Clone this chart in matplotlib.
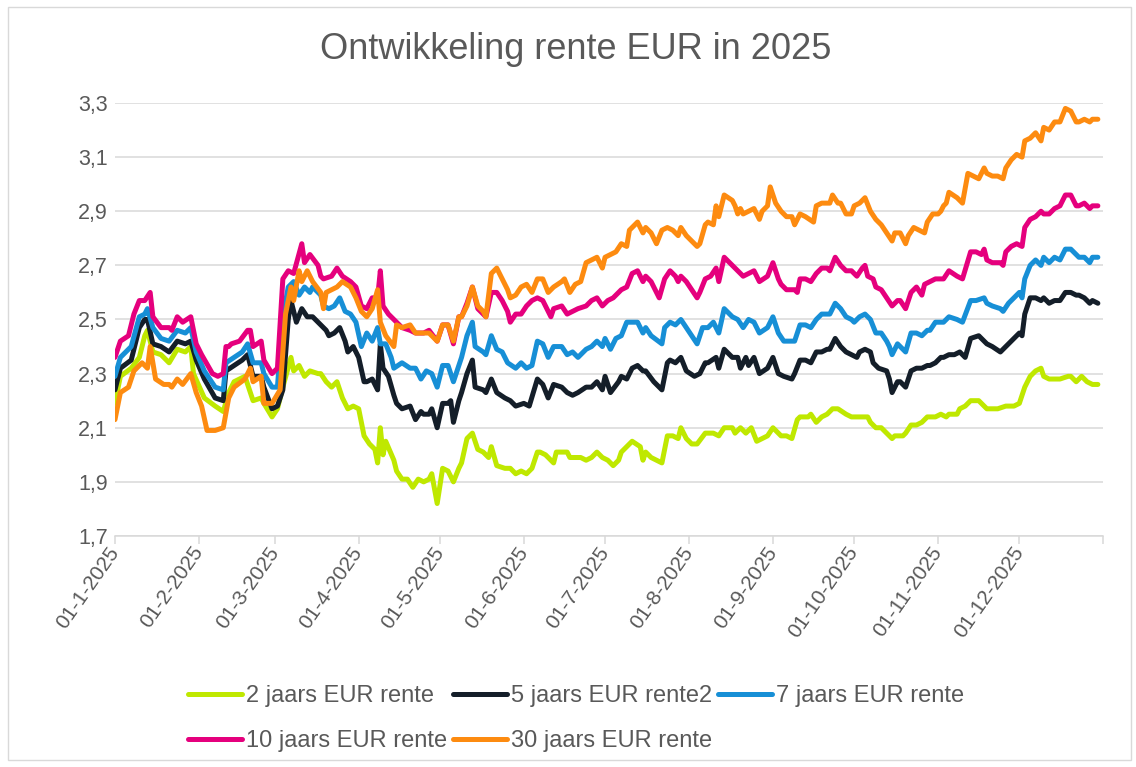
import matplotlib
matplotlib.use('Agg')
import matplotlib.pyplot as plt
import pandas as pd
from matplotlib.patches import Rectangle

plt.rcParams['font.family'] = ['Liberation Sans', 'DejaVu Sans']

START = pd.Timestamp('2025-01-01')

# (dagen sinds 1-1-2025, rente %)
rente_2j = [(0,2.19),(2,2.29),(6,2.32),(9,2.36),(11,2.44),(12,2.46),(14,2.38),(17,2.37),(20,2.34),(23,2.39),(26,2.38),(28,2.40),(29,2.30),(33,2.21),(37,2.18),(40,2.16),(42,2.23),(44,2.27),(48,2.29),(51,2.20),(54,2.21),(55,2.19),(58,2.14),(60,2.17),(62,2.25),(65,2.36),(66,2.31),(68,2.33),(70,2.29),(72,2.31),(75,2.30),(76,2.30),(78,2.27),(80,2.25),(82,2.27),(84,2.21),(86,2.17),(88,2.18),(90,2.17),(92,2.07),(94,2.04),(96,2.02),(97,1.97),(98,2.10),(99,2.00),(100,2.05),(103,1.98),(104,1.94),(106,1.91),(108,1.91),(110,1.88),(112,1.91),(114,1.90),(116,1.91),(117,1.93),(119,1.82),(121,1.95),(123,1.94),(125,1.90),(127,1.95),(128,1.97),(130,2.06),(132,2.08),(134,2.02),(136,2.01),(138,1.99),(139,2.03),(141,1.96),(144,1.95),(146,1.95),(148,1.93),(150,1.94),(152,1.93),(154,1.95),(156,2.01),(157,2.01),(159,2.00),(162,1.97),(163,2.01),(167,2.01),(168,1.99),(170,1.99),(172,1.99),(174,1.98),(176,1.99),(178,2.01),(180,1.99),(182,1.98),(184,1.96),(186,1.98),(187,2.01),(189,2.03),(191,2.05),(194,2.03),(195,1.98),(196,2.01),(198,1.99),(202,1.97),(204,2.07),(206,2.07),(208,2.06),(209,2.10),(211,2.06),(213,2.04),(215,2.04),(218,2.08),(219,2.08),(221,2.08),(223,2.07),(225,2.10),(228,2.10),(229,2.08),(231,2.10),(233,2.08),(235,2.10),(237,2.05),(239,2.06),(241,2.07),(243,2.10),(245,2.08),(246,2.07),(248,2.07),(250,2.06),(252,2.13),(253,2.14),(256,2.14),(257,2.15),(259,2.12),(261,2.14),(263,2.15),(265,2.17),(267,2.17),(270,2.15),(272,2.14),(274,2.14),(276,2.14),(278,2.14),(279,2.12),(281,2.10),(283,2.10),(285,2.08),(287,2.06),(288,2.07),(291,2.07),(292,2.08),(294,2.11),(296,2.11),(298,2.12),(300,2.14),(301,2.14),(303,2.14),(305,2.15),(307,2.14),(308,2.15),(311,2.15),(312,2.17),(314,2.18),(316,2.20),(319,2.20),(321,2.18),(322,2.17),(326,2.17),(329,2.18),(332,2.18),(334,2.19),(336,2.25),(338,2.29),(340,2.31),(342,2.32),(343,2.29),(345,2.28),(348,2.28),(349,2.28),(352,2.29),(353,2.29),(355,2.27),(357,2.29),(359,2.27),(361,2.26),(363,2.26)]

rente_5j = [(0,2.24),(2,2.32),(6,2.35),(9,2.47),(11,2.50),(12,2.50),(14,2.41),(17,2.40),(20,2.38),(23,2.42),(26,2.41),(28,2.42),(30,2.35),(33,2.28),(37,2.21),(40,2.20),(41,2.31),(44,2.33),(47,2.35),(49,2.37),(51,2.29),(54,2.29),(55,2.25),(58,2.17),(60,2.18),(62,2.24),(64,2.50),(65,2.57),(67,2.49),(69,2.54),(71,2.51),(73,2.51),(75,2.49),(78,2.46),(79,2.44),(81,2.45),(83,2.47),(85,2.42),(86,2.38),(88,2.40),(90,2.36),(92,2.27),(93,2.27),(95,2.28),(97,2.24),(98,2.41),(99,2.32),(101,2.29),(103,2.22),(104,2.19),(106,2.17),(109,2.18),(111,2.13),(113,2.16),(114,2.15),(116,2.15),(117,2.17),(119,2.10),(121,2.19),(123,2.19),(124,2.20),(125,2.12),(127,2.20),(128,2.23),(130,2.30),(132,2.35),(133,2.25),(136,2.24),(137,2.23),(139,2.28),(141,2.23),(144,2.21),(146,2.20),(148,2.18),(151,2.19),(153,2.18),(156,2.28),(158,2.26),(160,2.21),(162,2.26),(165,2.25),(167,2.23),(169,2.22),(171,2.23),(174,2.25),(176,2.25),(178,2.27),(180,2.24),(181,2.29),(183,2.23),(186,2.27),(187,2.29),(189,2.28),(191,2.32),(193,2.33),(195,2.31),(196,2.31),(199,2.27),(202,2.24),(204,2.34),(205,2.35),(207,2.34),(209,2.36),(211,2.31),(214,2.29),(216,2.30),(218,2.34),(219,2.34),(222,2.36),(223,2.32),(225,2.39),(228,2.36),(230,2.36),(231,2.32),(233,2.36),(234,2.33),(236,2.36),(238,2.30),(241,2.32),(243,2.36),(245,2.30),(247,2.29),(250,2.28),(251,2.30),(253,2.35),(255,2.35),(257,2.34),(259,2.38),(261,2.38),(263,2.39),(264,2.39),(266,2.43),(268,2.40),(270,2.38),(272,2.37),(274,2.36),(275,2.38),(277,2.39),(279,2.38),(280,2.34),(282,2.32),(285,2.31),(286,2.28),(287,2.23),(289,2.27),(290,2.27),(292,2.25),(294,2.31),(296,2.32),(298,2.32),(300,2.33),(301,2.33),(303,2.34),(305,2.36),(306,2.36),(308,2.37),(310,2.37),(312,2.38),(314,2.36),(316,2.43),(319,2.44),(321,2.42),(322,2.41),(324,2.40),(327,2.38),(328,2.39),(330,2.41),(332,2.43),(334,2.45),(335,2.44),(336,2.52),(338,2.58),(340,2.58),(342,2.57),(343,2.58),(345,2.56),(347,2.57),(349,2.57),(351,2.60),(353,2.60),(355,2.59),(356,2.59),(358,2.58),(360,2.56),(361,2.57),(363,2.56)]

rente_7j = [(0,2.29),(2,2.36),(6,2.40),(9,2.51),(11,2.52),(12,2.54),(14,2.47),(17,2.43),(20,2.42),(23,2.46),(26,2.45),(28,2.47),(30,2.38),(33,2.31),(37,2.25),(40,2.24),(41,2.34),(44,2.36),(47,2.38),(49,2.41),(51,2.34),(54,2.34),(55,2.30),(58,2.25),(60,2.25),(62,2.51),(64,2.62),(66,2.64),(68,2.59),(70,2.62),(72,2.60),(73,2.62),(76,2.59),(77,2.55),(79,2.54),(81,2.55),(83,2.58),(85,2.53),(87,2.52),(89,2.49),(91,2.40),(93,2.45),(95,2.42),(97,2.47),(98,2.41),(100,2.41),(102,2.36),(103,2.32),(106,2.34),(109,2.32),(111,2.32),(113,2.28),(115,2.31),(117,2.30),(119,2.25),(121,2.33),(123,2.33),(125,2.27),(127,2.33),(128,2.36),(130,2.44),(132,2.49),(133,2.40),(136,2.38),(137,2.37),(139,2.44),(141,2.39),(143,2.38),(145,2.34),(148,2.32),(150,2.34),(152,2.32),(154,2.33),(156,2.42),(158,2.41),(160,2.36),(162,2.40),(165,2.40),(167,2.37),(169,2.38),(171,2.36),(174,2.39),(176,2.40),(178,2.42),(180,2.40),(181,2.43),(183,2.39),(185,2.43),(187,2.44),(189,2.49),(191,2.49),(193,2.49),(195,2.45),(196,2.47),(198,2.44),(202,2.41),(203,2.47),(205,2.49),(207,2.48),(209,2.50),(211,2.47),(213,2.44),(215,2.41),(217,2.47),(219,2.47),(221,2.49),(223,2.45),(225,2.54),(228,2.51),(230,2.50),(232,2.47),(234,2.50),(236,2.49),(238,2.45),(241,2.47),(243,2.51),(245,2.45),(247,2.42),(250,2.42),(251,2.42),(253,2.48),(255,2.48),(257,2.47),(259,2.50),(261,2.52),(263,2.52),(264,2.52),(266,2.56),(268,2.54),(270,2.51),(272,2.50),(273,2.49),(275,2.51),(277,2.52),(278,2.51),(279,2.50),(281,2.45),(283,2.45),(285,2.42),(286,2.40),(287,2.37),(289,2.41),(290,2.40),(292,2.38),(294,2.45),(296,2.45),(298,2.44),(300,2.46),(301,2.46),(303,2.49),(306,2.49),(308,2.51),(311,2.50),(313,2.49),(316,2.57),(318,2.57),(321,2.58),(322,2.56),(324,2.55),(327,2.54),(328,2.53),(330,2.56),(332,2.58),(334,2.60),(335,2.58),(336,2.65),(338,2.70),(340,2.72),(342,2.70),(343,2.73),(345,2.71),(347,2.73),(349,2.72),(351,2.76),(353,2.76),(355,2.74),(356,2.73),(358,2.73),(360,2.71),(361,2.73),(363,2.73)]

rente_10j = [(0,2.36),(2,2.42),(5,2.44),(7,2.52),(9,2.57),(11,2.57),(13,2.60),(14,2.51),(17,2.47),(20,2.47),(21,2.46),(23,2.51),(25,2.49),(28,2.51),(30,2.41),(32,2.37),(36,2.30),(38,2.29),(40,2.30),(41,2.40),(42,2.40),(43,2.41),(46,2.42),(49,2.46),(50,2.46),(51,2.40),(54,2.42),(55,2.35),(58,2.30),(60,2.32),(62,2.65),(64,2.68),(66,2.67),(69,2.78),(70,2.71),(72,2.74),(75,2.70),(76,2.66),(77,2.65),(80,2.66),(82,2.69),(84,2.66),(87,2.64),(89,2.62),(91,2.55),(93,2.54),(95,2.58),(97,2.58),(98,2.68),(99,2.55),(101,2.52),(103,2.50),(104,2.49),(106,2.47),(109,2.46),(111,2.45),(114,2.45),(116,2.46),(119,2.42),(121,2.48),(123,2.48),(125,2.41),(127,2.51),(128,2.51),(130,2.56),(132,2.62),(134,2.54),(136,2.52),(137,2.51),(139,2.60),(141,2.60),(143,2.57),(145,2.53),(146,2.49),(148,2.52),(150,2.52),(152,2.55),(154,2.57),(156,2.58),(158,2.57),(161,2.51),(162,2.54),(165,2.55),(167,2.52),(169,2.53),(171,2.54),(174,2.55),(176,2.57),(178,2.58),(180,2.55),(182,2.57),(184,2.58),(186,2.60),(187,2.61),(189,2.62),(191,2.67),(193,2.68),(195,2.64),(196,2.66),(198,2.64),(201,2.58),(203,2.65),(205,2.68),(207,2.66),(208,2.64),(209,2.66),(211,2.64),(213,2.61),(215,2.58),(216,2.60),(218,2.65),(220,2.66),(222,2.69),(223,2.64),(225,2.73),(228,2.70),(230,2.68),(232,2.66),(234,2.67),(236,2.68),(238,2.64),(241,2.66),(243,2.71),(245,2.65),(246,2.63),(248,2.61),(251,2.61),(252,2.60),(253,2.65),(255,2.65),(257,2.64),(259,2.67),(261,2.69),(263,2.69),(264,2.68),(266,2.73),(268,2.70),(270,2.68),(272,2.68),(274,2.66),(276,2.69),(277,2.70),(278,2.66),(280,2.65),(281,2.62),(283,2.61),(285,2.58),(287,2.55),(289,2.57),(290,2.57),(292,2.54),(294,2.60),(296,2.62),(298,2.59),(299,2.63),(301,2.64),(303,2.65),(306,2.65),(308,2.68),(311,2.66),(313,2.65),(316,2.75),(318,2.75),(320,2.74),(321,2.76),(322,2.72),(324,2.71),(327,2.71),(328,2.70),(329,2.75),(331,2.77),(333,2.78),(335,2.77),(336,2.84),(338,2.87),(340,2.88),(342,2.90),(343,2.89),(345,2.89),(347,2.91),(349,2.92),(351,2.96),(353,2.96),(355,2.92),(356,2.92),(358,2.93),(360,2.91),(361,2.92),(363,2.92)]

rente_30j = [(0,2.13),(2,2.23),(5,2.25),(7,2.31),(10,2.34),(12,2.32),(13,2.40),(15,2.28),(18,2.26),(20,2.26),(21,2.25),(23,2.28),(25,2.26),(28,2.30),(30,2.23),(32,2.18),(34,2.09),(37,2.09),(40,2.10),(42,2.21),(44,2.25),(48,2.28),(50,2.32),(51,2.27),(54,2.29),(55,2.19),(58,2.19),(61,2.24),(63,2.52),(65,2.62),(66,2.57),(68,2.68),(69,2.64),(71,2.68),(73,2.64),(76,2.60),(77,2.54),(78,2.60),(82,2.62),(84,2.64),(87,2.62),(89,2.58),(91,2.53),(93,2.51),(95,2.54),(97,2.61),(98,2.49),(100,2.44),(103,2.40),(104,2.48),(106,2.47),(109,2.48),(111,2.45),(114,2.45),(116,2.45),(119,2.42),(121,2.48),(123,2.48),(125,2.42),(127,2.51),(128,2.51),(130,2.55),(132,2.62),(134,2.55),(136,2.53),(137,2.51),(139,2.67),(141,2.69),(143,2.65),(145,2.61),(146,2.58),(148,2.59),(150,2.62),(152,2.63),(154,2.60),(156,2.65),(158,2.65),(160,2.60),(162,2.62),(165,2.64),(166,2.65),(168,2.60),(170,2.63),(172,2.64),(174,2.71),(176,2.72),(178,2.73),(180,2.69),(181,2.73),(183,2.74),(185,2.75),(187,2.78),(189,2.77),(190,2.83),(191,2.84),(193,2.86),(195,2.82),(196,2.84),(198,2.82),(200,2.78),(202,2.83),(204,2.84),(206,2.83),(208,2.81),(209,2.84),(211,2.81),(213,2.79),(215,2.77),(216,2.78),(218,2.85),(219,2.86),(221,2.85),(222,2.92),(223,2.88),(225,2.96),(228,2.94),(229,2.92),(230,2.89),(231,2.91),(232,2.89),(234,2.90),(236,2.91),(238,2.87),(239,2.90),(241,2.92),(242,2.99),(244,2.93),(246,2.90),(248,2.88),(250,2.88),(251,2.85),(253,2.89),(255,2.88),(258,2.86),(259,2.92),(261,2.93),(264,2.93),(265,2.96),(267,2.93),(268,2.93),(270,2.89),(272,2.89),(273,2.92),(275,2.93),(277,2.95),(279,2.90),(281,2.87),(283,2.85),(285,2.82),(287,2.79),(288,2.82),(290,2.82),(292,2.78),(293,2.81),(295,2.84),(297,2.83),(299,2.82),(300,2.86),(302,2.89),(304,2.89),(305,2.90),(306,2.92),(307,2.93),(308,2.97),(311,2.95),(313,2.93),(315,3.04),(317,3.03),(319,3.02),(321,3.06),(322,3.04),(324,3.03),(326,3.03),(328,3.02),(329,3.06),(331,3.09),(333,3.11),(335,3.10),(336,3.16),(338,3.17),(340,3.19),(342,3.16),(343,3.21),(345,3.20),(347,3.23),(349,3.23),(351,3.28),(353,3.27),(355,3.23),(356,3.23),(358,3.24),(360,3.23),(361,3.24),(363,3.24)]

series_names = ['2 jaars EUR rente', '5 jaars EUR rente2', '7 jaars EUR rente',
                '10 jaars EUR rente', '30 jaars EUR rente']
series_data = [rente_2j, rente_5j, rente_7j, rente_10j, rente_30j]
series_colors = ['#bfe800', '#141e29', '#178fd6', '#e5007d', '#fd8b10']

y_ticks = [1.7, 1.9, 2.1, 2.3, 2.5, 2.7, 2.9, 3.1, 3.3]

TXT = '#595959'
GRID = '#d9d9d9'

fig = plt.figure(figsize=(11.36, 7.67), dpi=100)
ax = fig.add_axes([0.1012, 0.3012, 0.8700, 0.5645])

lines = []
for name, data, col in zip(series_names, series_data, series_colors):
    days = [d for d, v in data]
    vals = [v for d, v in data]
    dates = START + pd.to_timedelta(days, unit='D')
    ln, = ax.plot(dates, vals, color=col, lw=3.6, label=name,
                  solid_joinstyle='round', solid_capstyle='round')
    lines.append(ln)

ax.set_ylim(1.7, 3.3)
ax.set_yticks(y_ticks)
ax.set_yticklabels([f'{v:.1f}'.replace('.', ',') for v in y_ticks])
ax.yaxis.grid(True, color=GRID, lw=1.1)
ax.set_axisbelow(True)

months = list(pd.date_range('2025-01-01', '2025-12-01', freq='MS')) + [pd.Timestamp('2026-01-01')]
ax.set_xlim(months[0], months[-1])
ax.set_xticks(months)
ax.set_xticklabels([f'{m.day:02d}-{m.month}-{m.year}' for m in months[:-1]] + [''],
                   rotation=55, ha='right', va='center', rotation_mode='anchor')

for s in ['top', 'right', 'left']:
    ax.spines[s].set_visible(False)
ax.spines['bottom'].set_color(GRID)
ax.spines['bottom'].set_linewidth(1.1)
ax.tick_params(axis='y', length=0, pad=5, labelsize=15.5, labelcolor=TXT)
ax.tick_params(axis='x', length=6, width=1.1, color=GRID, pad=3, labelsize=15, labelcolor=TXT)

fig.text(0.507, 0.935, 'Ontwikkeling rente EUR in 2025', ha='center', va='center',
         fontsize=26, color=TXT)

# legenda rij voor rij: 2j, 5j, 7j / 10j, 30j
order = [0, 3, 1, 4, 2]
leg = fig.legend([lines[i] for i in order], [series_names[i] for i in order],
                 loc='center', bbox_to_anchor=(0.507, 0.063), ncol=3, frameon=False,
                 fontsize=17, handlelength=2.3, handletextpad=0.15, columnspacing=0.25,
                 labelspacing=0.95)
for t in leg.get_texts():
    t.set_color(TXT)

fig.patches.append(Rectangle((0.007, 0.009), 0.9886, 0.982, transform=fig.transFigure,
                             fill=False, edgecolor=GRID, lw=1))

fig.savefig('out.png', dpi=100)
